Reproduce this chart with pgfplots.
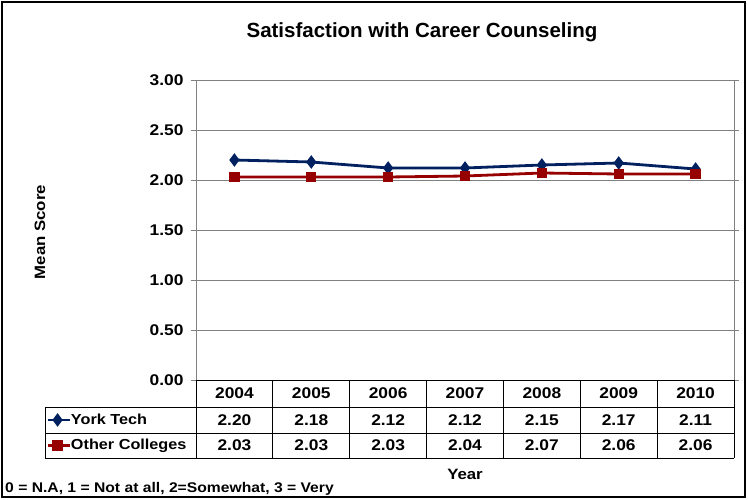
\documentclass[border=0pt]{standalone}
\usepackage{fontspec}
\setmainfont{Liberation Sans}[FakeStretch=1.12]
\newfontfamily\titlefont{Liberation Sans}
\usepackage{pgfplots}
\usepackage{pgfplotstable}
\pgfplotsset{compat=1.18}

\definecolor{york}{RGB}{0,32,96}
\definecolor{other}{RGB}{150,0,0}
\definecolor{gridgray}{RGB}{128,128,128}

% mean scores per year
\pgfplotstableread{
year york other
2004 2.20 2.03
2005 2.18 2.03
2006 2.12 2.03
2007 2.12 2.04
2008 2.15 2.07
2009 2.17 2.06
2010 2.11 2.06
}\scores

\newcommand{\tabfont}{\fontsize{15.5}{17}\selectfont\bfseries}

\begin{document}
\begin{tikzpicture}[x=1pt,y=1pt]
\useasboundingbox (0,0) rectangle (748,-500);

\node[font=\titlefont\fontsize{20.5}{23}\selectfont\bfseries] at (422,-32) {Satisfaction with Career Counseling};

\begin{axis}[
    at={(196pt,-380pt)}, anchor=south west,
    width=538pt, height=300pt, scale only axis,
    xmin=-0.5, xmax=6.5, ymin=0, ymax=3,
    xtick=\empty,
    ytick={0,0.5,1,1.5,2,2.5,3},
    yticklabel style={/pgf/number format/fixed, /pgf/number format/zerofill,
        /pgf/number format/precision=2, /pgf/number format/assume math mode=true},
    yticklabel style={font=\fontsize{15.5}{17}\selectfont\bfseries, xshift=-4pt},
    tick align=outside, major tick length=5pt,
    ytick style={gridgray, line width=0.8pt},
    ymajorgrids, grid style={gridgray, line width=0.8pt},
    axis line style={gridgray, line width=0.8pt},
    clip=false,
    legend style={at={(-0.2807,-0.09)}, anchor=north west, draw=none, fill=none,
        inner xsep=1pt, inner ysep=0pt, row sep=0pt,
        nodes={inner sep=0pt, minimum height=25.5pt, font=\fontsize{14.5}{17}\selectfont\bfseries}},
    legend cell align=left,
    legend image code/.code={\draw[mark repeat=2, mark phase=2, #1] plot coordinates {(0pt,0pt) (10pt,0pt) (22pt,0pt)};},
]
\addplot[york, line width=2.8pt, mark=diamond*, mark size=4.5pt, mark options={solid}]
    table[x expr=\coordindex, y=york] {\scores};
\addlegendentry{York Tech}
\addplot[other, line width=2.8pt, mark=square*, mark size=3.8pt, mark options={solid}]
    table[x expr=\coordindex, y=other] {\scores};
\addlegendentry{Other Colleges}
\end{axis}

% data table under the plot
\draw[black, line width=0.8pt] (196,-380) -- (734,-380);
\foreach \y in {407,433,458} \draw[black, line width=0.8pt] (45,-\y) -- (734,-\y);
\draw[black, line width=0.8pt] (45,-407) -- (45,-458);
\foreach \k in {0,...,7} \draw[black, line width=0.8pt] (196+76.857*\k,-380) -- (196+76.857*\k,-458);
\foreach \i in {0,...,6} {
  \pgfmathsetmacro\cx{196+76.857*\i+38.43}
  \pgfplotstablegetelem{\i}{year}\of\scores
  \node[font=\tabfont] at (\cx,-393.5) {\pgfplotsretval};
  \pgfplotstablegetelem{\i}{york}\of\scores
  \node[font=\tabfont] at (\cx,-420) {\pgfplotsretval};
  \pgfplotstablegetelem{\i}{other}\of\scores
  \node[font=\tabfont] at (\cx,-445.5) {\pgfplotsretval};
}

\node[font=\fontsize{15}{17}\selectfont\bfseries, rotate=90] at (40,-232) {Mean Score};
\node[font=\fontsize{15}{17}\selectfont\bfseries] at (465,-474) {Year};
\node[font=\fontsize{14}{16}\selectfont\bfseries, anchor=west, inner sep=0pt] at (5,-489) {0 = N.A, 1 = Not at all, 2=Somewhat, 3 = Very};

\draw[black, line width=2.5pt] (2,-2) rectangle (745,-497);
\end{tikzpicture}
\end{document}
